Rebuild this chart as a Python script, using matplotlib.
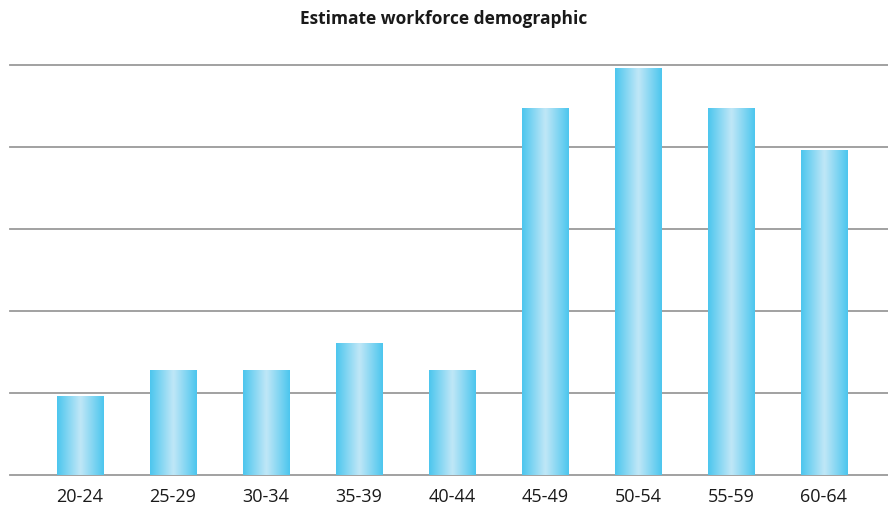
import numpy as np
import matplotlib.pyplot as plt
from matplotlib.colors import LinearSegmentedColormap

categories = ['20-24', '25-29', '30-34', '35-39', '40-44', '45-49', '50-54', '55-59', '60-64']
values = [0.96, 1.28, 1.28, 1.61, 1.28, 4.48, 4.96, 4.48, 3.96]

plt.rcParams['font.family'] = ['Open Sans', 'DejaVu Sans']

fig = plt.figure(figsize=(8.88, 5.06), dpi=100)
ax = fig.add_axes([0.0113, 0.0593, 0.9887, 0.8103])

x = np.arange(len(categories))
bars = ax.bar(x, values, width=0.495, color='none', zorder=3)

# horizontal gradient: cyan edges, pale centre
cmap = LinearSegmentedColormap.from_list('cy', ['#4cc6ee', '#c0e7f7', '#4cc6ee'])
grad = np.linspace(0, 1, 256).reshape(1, -1)
for b in bars:
    x0, y0 = b.get_x(), b.get_y()
    w, h = b.get_width(), b.get_height()
    im = ax.imshow(grad, cmap=cmap, aspect='auto', extent=[x0, x0 + w, y0, y0 + h],
                   zorder=3, interpolation='bicubic')
    im.set_clip_path(b)

ax.set_xlim(-0.753, 8.69)
ax.set_ylim(0, 5)
ax.set_yticks(range(6))
ax.yaxis.grid(True, color='#9a9a9a', linewidth=1.3, zorder=0)
for gl in ax.get_ygridlines():
    gl.set_clip_on(False)
ax.set_yticklabels([])
ax.tick_params(axis='y', length=0)
ax.tick_params(axis='x', length=0, labelsize=13, colors='#1a1a1a', pad=9)
ax.set_xticks(x)
ax.set_xticklabels(categories)
for s in ax.spines.values():
    s.set_visible(False)

fig.text(0.5, 0.962, 'Estimate workforce demographic', ha='center', va='center',
         fontsize=12.5, fontweight='bold', color='#1a1a1a')

fig.savefig('out.png', dpi=100)
